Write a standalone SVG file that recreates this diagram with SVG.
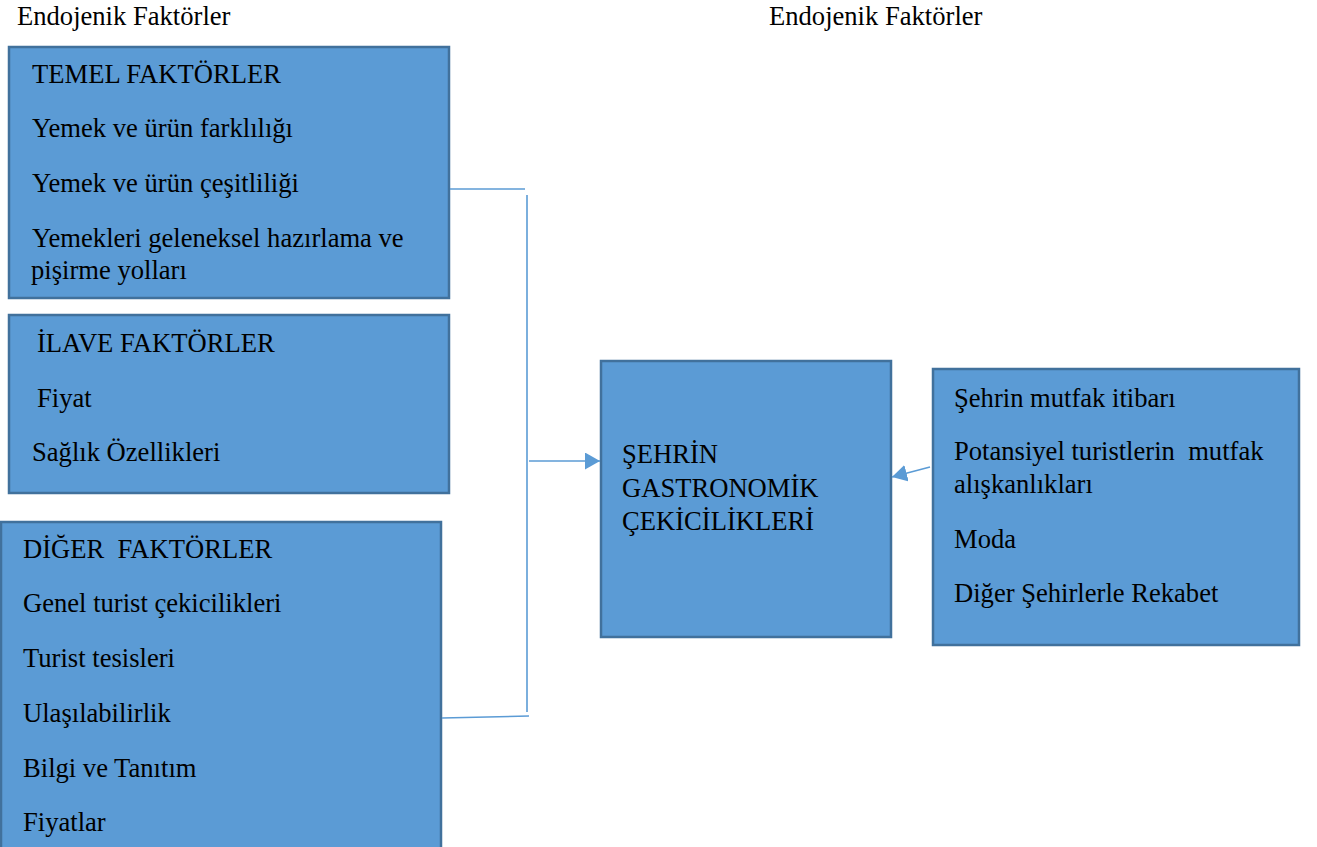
<svg xmlns="http://www.w3.org/2000/svg" width="1317" height="847" viewBox="0 0 1317 847">
<defs>
<style>
.box{fill:#5B9BD5;stroke:#41719C;stroke-width:2.5}
.t{font-family:"Liberation Serif","Times New Roman",serif;font-size:26.6px;fill:#000;white-space:pre}
.c{fill:none;stroke:#5B9BD5;stroke-width:1.6}
</style>
<marker id="ah" markerUnits="userSpaceOnUse" markerWidth="16" markerHeight="18" refX="15" refY="8.5" orient="auto">
<path d="M0,0 L15,8.5 L0,17 z" fill="#5B9BD5"/>
</marker>
</defs>
<rect width="1317" height="847" fill="#fff"/>
<text class="t" x="17" y="25">Endojenik Faktörler</text>
<text class="t" x="769" y="25">Endojenik Faktörler</text>
<g id="temel">
<rect class="box" x="9" y="47" width="440" height="251"/>
<text class="t" x="32" y="83">TEMEL FAKTÖRLER</text>
<text class="t" x="32" y="137">Yemek ve ürün farklılığı</text>
<text class="t" x="32" y="192">Yemek ve ürün çeşitliliği</text>
<text class="t" x="32" y="247">Yemekleri geleneksel hazırlama ve</text>
<text class="t" x="31" y="279">pişirme yolları</text>
</g>
<g id="ilave">
<rect class="box" x="9" y="315" width="440" height="178"/>
<text class="t" x="37" y="352">İLAVE FAKTÖRLER</text>
<text class="t" x="37" y="407">Fiyat</text>
<text class="t" x="32" y="461">Sağlık Özellikleri</text>
</g>
<g id="diger">
<rect class="box" x="1" y="522" width="440" height="340"/>
<text class="t" x="23" y="558">DİĞER  FAKTÖRLER</text>
<text class="t" x="23" y="612">Genel turist çekicilikleri</text>
<text class="t" x="23" y="667">Turist tesisleri</text>
<text class="t" x="23" y="722">Ulaşılabilirlik</text>
<text class="t" x="23" y="777">Bilgi ve Tanıtım</text>
<text class="t" x="23" y="831">Fiyatlar</text>
</g>
<g id="sehrin">
<rect class="box" x="601" y="361" width="290" height="276"/>
<text class="t" x="622" y="463">ŞEHRİN</text>
<text class="t" x="622" y="497">GASTRONOMİK</text>
<text class="t" x="622" y="530">ÇEKİCİLİKLERİ</text>
</g>
<g id="exogen">
<rect class="box" x="933" y="369" width="366" height="276"/>
<text class="t" x="954" y="407">Şehrin mutfak itibarı</text>
<text class="t" x="954" y="460">Potansiyel turistlerin  mutfak</text>
<text class="t" x="954" y="493">alışkanlıkları</text>
<text class="t" x="954" y="548">Moda</text>
<text class="t" x="954" y="602">Diğer Şehirlerle Rekabet</text>
</g>
<g id="connectors">
<line class="c" x1="450" y1="189" x2="525" y2="189"/>
<line class="c" x1="527" y1="195" x2="527" y2="712"/>
<line class="c" x1="442" y1="718" x2="529" y2="716"/>
<line class="c" x1="529" y1="461" x2="600" y2="461" marker-end="url(#ah)"/>
<line class="c" x1="930" y1="467" x2="892" y2="477" marker-end="url(#ah)"/>
</g>
</svg>
